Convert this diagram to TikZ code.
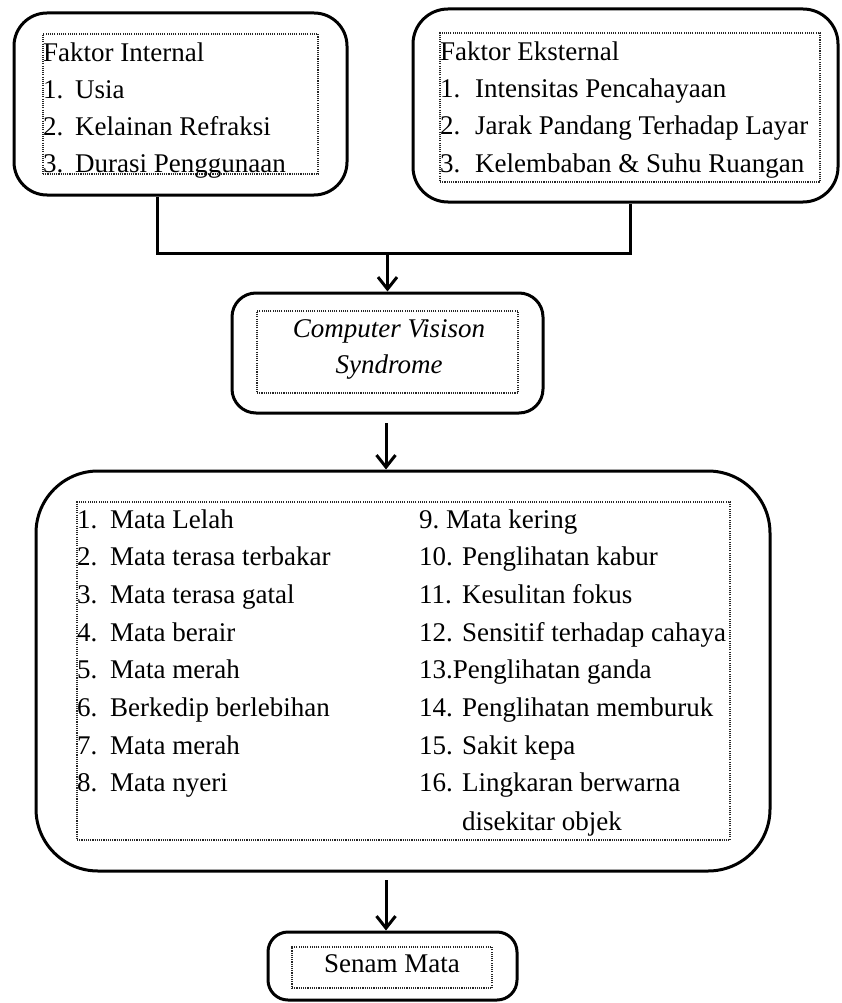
\documentclass[tikz,border=0pt]{standalone}
\usepackage{fontspec}
\setmainfont{Liberation Serif}
\usetikzlibrary{arrows.meta}
\begin{document}
\begin{tikzpicture}[x=1pt,y=-1pt,
  outerbox/.style={draw,line width=3pt,rounded corners=#1,inner sep=0pt},
  innerbox/.style={draw=black!85,line width=1.1pt,dash pattern=on 1.1pt off 1.1pt,inner sep=0pt},
  txt/.style={anchor=base west,inner sep=0pt,font=\fontsize{27}{37}\selectfont},
  ctxt/.style={anchor=base,inner sep=0pt,font=\fontsize{27}{37}\selectfont},
  conn/.style={line width=3pt},
  arr/.style={line width=3pt,-{Straight Barb[length=12pt,width=19pt,line width=3pt]}}]
\useasboundingbox (0,0) rectangle (842,1003);

% Box 1 : Faktor Internal
\node[outerbox=33pt,minimum width=333pt,minimum height=182pt] (int) at (180.5,104) {};
\node[innerbox,minimum width=275pt,minimum height=140pt] (intin) at (180.5,104) {};
\node[txt] (i0) at (43,62) {Faktor Internal};
\node[txt] (i1n) at (43,99) {1.};
\node[txt] (i1) at (75,99) {Usia};
\node[txt] (i2n) at (43,136) {2.};
\node[txt] (i2) at (75,136) {Kelainan Refraksi};
\node[txt] (i3n) at (43,172) {3.};
\node[txt] (i3) at (75,172) {Durasi Penggunaan};

% Box 2 : Faktor Eksternal
\node[outerbox=35pt,minimum width=425pt,minimum height=193pt] (ext) at (625.5,105.5) {};
\node[innerbox,minimum width=380pt,minimum height=149pt] (extin) at (630,107.5) {};
\node[txt] (e0) at (440,61) {Faktor Eksternal};
\node[txt] (e1n) at (440,98) {1.};
\node[txt] (e1) at (475,98) {Intensitas Pencahayaan};
\node[txt] (e2n) at (440,135) {2.};
\node[txt] (e2) at (475,135) {Jarak Pandang Terhadap Layar};
\node[txt] (e3n) at (440,172) {3.};
\node[txt] (e3) at (475,172) {Kelembaban \& Suhu Ruangan};

% Box 3 : CVS
\node[outerbox=24pt,minimum width=311pt,minimum height=120pt] (cvs) at (387.5,353) {};
\node[innerbox,minimum width=261pt,minimum height=82pt] (cvsin) at (387.5,352) {};
\node[ctxt] (c1) at (389,337) {\itshape Computer Visison};
\node[ctxt] (c2) at (389,373) {\itshape Syndrome};

% Box 4 : symptoms
\node[outerbox=62pt,minimum width=734pt,minimum height=400pt] (sym) at (403,671) {};
\node[innerbox,minimum width=653pt,minimum height=338pt] (symin) at (403.5,671) {};
\foreach \n/\t [count=\k from 0] in {1./Mata Lelah,2./Mata terasa terbakar,3./Mata terasa gatal,4./Mata berair,5./Mata merah,6./Berkedip berlebihan,7./Mata merah,8./Mata nyeri}{
  \node[txt] (ln\k) at (77,528+37.7*\k) {\n};
  \node[txt] (lt\k) at (110,528+37.7*\k) {\t};
}
\node[txt] (r0n) at (419,528) {9.};
\node[txt] (r0) at (446,528) {Mata kering};
\foreach \n/\t [count=\k from 1] in {10./Penglihatan kabur,11./Kesulitan fokus,12./Sensitif terhadap cahaya}{
  \node[txt] (rn\k) at (419,528+37.7*\k) {\n};
  \node[txt] (rt\k) at (462,528+37.7*\k) {\t};
}
\node[txt] (r4) at (419,528+37.7*4) {13.Penglihatan ganda};
\foreach \n/\t [count=\k from 5] in {14./Penglihatan memburuk,15./Sakit kepa,16./Lingkaran berwarna}{
  \node[txt] (rn\k) at (419,528+37.7*\k) {\n};
  \node[txt] (rt\k) at (462,528+37.7*\k) {\t};
}
\node[txt] (r8) at (462,830) {disekitar objek};

% Box 5 : Senam Mata
\node[outerbox=20pt,minimum width=249pt,minimum height=68pt] (sen) at (392.5,966) {};
\node[innerbox,minimum width=200pt,minimum height=41pt] (senin) at (392,967.5) {};
\node[ctxt] (s1) at (392,972) {Senam Mata};

% Connectors
\coordinate (jl) at (157,253);
\coordinate (jr) at (630,253);
\draw[conn] (jl |- int.south) -- (jl) -- (jr) -- (jr |- ext.south);
\draw[arr] (cvs.north |- jl) -- (cvs.north);
\coordinate (a2) at (386,423);
\draw[arr] (a2) -- (a2 |- sym.north);
\coordinate (a3) at (386,880);
\draw[arr] (a3) -- (a3 |- sen.north);
\end{tikzpicture}
\end{document}
